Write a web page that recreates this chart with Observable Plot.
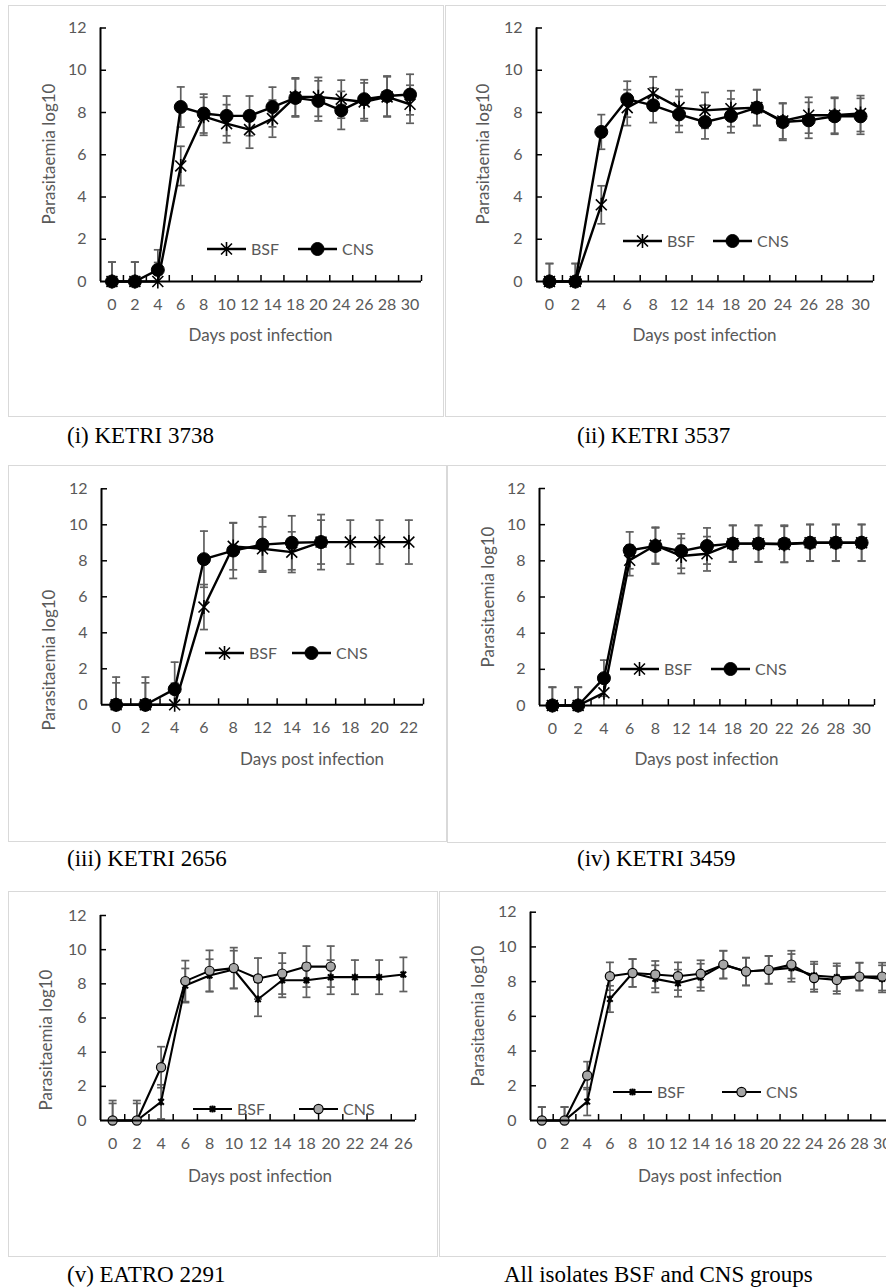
<!DOCTYPE html>
<html><head><meta charset="utf-8">
<script src="https://cdn.jsdelivr.net/npm/d3@7"></script>
<script src="https://cdn.jsdelivr.net/npm/@observablehq/plot@0.6"></script>
<style>
html,body{margin:0;padding:0;background:#fff;}
body{width:886px;height:1287px;overflow:hidden;position:relative;font-family:Lato,"Open Sans",sans-serif;}
.box{position:absolute;border:1.5px solid #d9d9d9;box-sizing:border-box;}
.wrap{position:absolute;}
.cap{position:absolute;font-family:"Liberation Serif","Times New Roman",serif;font-size:23px;color:#000;white-space:nowrap;transform:translateY(-50%);line-height:1;}
.ytitle{position:absolute;font-size:17px;color:#595959;white-space:nowrap;transform:translate(-50%,-50%) rotate(-90deg);line-height:1;}
.xtitle{position:absolute;font-size:17px;color:#595959;white-space:nowrap;transform:translate(-50%,-50%);line-height:1;}
.legt{position:absolute;font-size:16px;color:#595959;white-space:nowrap;transform:translateY(-50%);line-height:1;}
.legs{position:absolute;overflow:visible;}
</style></head>
<body>
<script>
// ---------- data ----------
const yTicks = [0, 2, 4, 6, 8, 10, 12];

const days1 = [0, 2, 4, 6, 8, 10, 12, 14, 18, 20, 24, 26, 28, 30];
const bsf1 = [0, 0, 0, 5.47, 7.82, 7.47, 7.19, 7.71, 8.74, 8.74, 8.63, 8.5, 8.74, 8.39];
const bsfErr1 = [0.92, 0.92, 0.9, 0.93, 0.9, 0.9, 0.88, 0.88, 0.9, 0.92, 0.9, 0.9, 0.95, 0.9];
const cns1 = [0, 0, 0.55, 8.26, 7.95, 7.84, 7.84, 8.26, 8.69, 8.55, 8.1, 8.63, 8.78, 8.85];
const cnsErr1 = [0.92, 0.92, 0.95, 0.95, 0.92, 0.94, 0.94, 0.94, 0.9, 0.95, 0.9, 0.92, 0.95, 0.96];

const days2 = [0, 2, 4, 6, 8, 12, 14, 18, 20, 24, 26, 28, 30];
const bsf2 = [0, 0, 3.63, 8.23, 8.89, 8.23, 8.1, 8.18, 8.23, 7.6, 7.87, 7.87, 7.95];
const bsfErr2 = [0.85, 0.85, 0.9, 0.85, 0.8, 0.85, 0.85, 0.85, 0.85, 0.85, 0.85, 0.85, 0.85];
const cns2 = [0, 0, 7.08, 8.63, 8.34, 7.91, 7.55, 7.84, 8.23, 7.55, 7.63, 7.82, 7.82];
const cnsErr2 = [0.85, 0.85, 0.82, 0.85, 0.82, 0.85, 0.8, 0.8, 0.85, 0.87, 0.85, 0.85, 0.85];

const days3 = [0, 2, 4, 6, 8, 12, 14, 16, 18, 20, 22];
const bsf3 = [0, 0, 0, 5.43, 8.8, 8.67, 8.48, 9.04, 9.04, 9.04, 9.04];
const bsfErr3 = [1.22, 1.22, 1.2, 1.25, 1.3, 1.22, 1.13, 1.22, 1.22, 1.22, 1.22];
const cns3 = [0, 0, 0.87, 8.09, 8.57, 8.9, 9.0, 9.04];
const cnsErr3 = [1.54, 1.54, 1.5, 1.56, 1.55, 1.53, 1.5, 1.53];

const days4 = [0, 2, 4, 6, 8, 12, 14, 18, 20, 22, 26, 28, 30];
const bsf4 = [0, 0, 0.7, 8.03, 8.86, 8.27, 8.39, 8.95, 8.95, 8.91, 9.0, 9.0, 9.0];
const bsfErr4 = [1.0, 1.0, 1.0, 0.85, 1.0, 0.97, 0.95, 1.0, 1.0, 1.0, 1.0, 1.0, 1.0];
const cns4 = [0, 0, 1.51, 8.58, 8.82, 8.54, 8.82, 8.95, 8.95, 8.95, 9.0, 9.0, 9.0];
const cnsErr4 = [1.02, 1.02, 1.0, 1.02, 1.0, 0.95, 1.0, 1.02, 1.02, 1.02, 1.02, 1.02, 1.02];

const days5 = [0, 2, 4, 6, 8, 10, 12, 14, 18, 20, 22, 24, 26];
const bsf5 = [0, 0, 1.09, 7.9, 8.49, 8.84, 7.1, 8.21, 8.21, 8.39, 8.39, 8.39, 8.55];
const bsfErr5 = [1.0, 1.0, 1.0, 1.0, 0.95, 1.1, 1.0, 1.0, 1.0, 1.0, 1.0, 1.0, 1.0];
const cns5 = [0, 0, 3.12, 8.16, 8.76, 8.92, 8.31, 8.6, 9.01, 9.01];
const cnsErr5 = [1.17, 1.17, 1.2, 1.2, 1.2, 1.2, 1.2, 1.2, 1.2, 1.2];

const days6 = [0, 2, 4, 6, 8, 10, 12, 14, 16, 18, 20, 22, 24, 26, 28, 30];
const bsf6 = [0, 0, 1.09, 7.0, 8.5, 8.16, 7.91, 8.25, 8.98, 8.58, 8.68, 8.79, 8.35, 8.25, 8.29, 8.16];
const bsfErr6 = [0.78, 0.78, 0.8, 0.76, 0.8, 0.78, 0.78, 0.78, 0.8, 0.8, 0.8, 0.8, 0.8, 0.8, 0.8, 0.78];
const cns6 = [0, 0, 2.59, 8.31, 8.5, 8.41, 8.31, 8.45, 8.98, 8.58, 8.68, 8.98, 8.21, 8.1, 8.29, 8.29];
const cnsErr6 = [0.77, 0.77, 0.8, 0.8, 0.8, 0.78, 0.8, 0.78, 0.8, 0.8, 0.8, 0.8, 0.8, 0.8, 0.8, 0.8];

const captions = ["(i) KETRI 3738", "(ii) KETRI 3537", "(iii) KETRI 2656", "(iv) KETRI 3459", "(v) EATRO 2291", "All isolates BSF and CNS groups"];
const seriesNames = ["BSF", "CNS"];
const xTitle = "Days post infection";
const yTitle = "Parasitaemia log10";

// ---------- symbols ----------
const asterisk = {draw(ctx, size) {
  const r = Math.sqrt(size / Math.PI), a = r * 0.78;
  ctx.moveTo(0, -r); ctx.lineTo(0, r);
  ctx.moveTo(-a, -a); ctx.lineTo(a, a);
  ctx.moveTo(-a, a); ctx.lineTo(a, -a);
}};
const hline = {draw(ctx, size) {
  const r = Math.sqrt(size / Math.PI);
  ctx.moveTo(-r, 0); ctx.lineTo(r, 0);
}};

const ERR = "#5f5f5f";
const ERRW = 1.7;
const darkStyle = {lw: 2.4, bsfR: 7, bsfSW: 1.6, cnsR: 6.5, cnsFill: "#000", cnsSW: 1};
const grayStyle = {lw: 2.1, bsfR: 3.6, bsfSW: 2, cnsR: 4.6, cnsFill: "#a6a6a6", cnsSW: 1.2};

// ---------- layout ----------
const panels = [
  {days: days1, bsf: bsf1, bsfErr: bsfErr1, cns: cns1, cnsErr: cnsErr1, style: darkStyle,
   box: {l: 8, t: 5, w: 436, h: 412}, ax0: 100, ax1: 421, y12: 27.5, y0: 281,
   xt: [260.5, 334], yt: [48, 154], cap: [67, 435], leg: {y: 249, b: 207, c: 298}},
  {days: days2, bsf: bsf2, bsfErr: bsfErr2, cns: cns2, cnsErr: cnsErr2, style: darkStyle,
   box: {l: 445, t: 5, w: 460, h: 412}, ax0: 536, ax1: 873, y12: 27.5, y0: 281,
   xt: [704.5, 334], yt: [482, 154], cap: [577, 435], leg: {y: 241, b: 623, c: 713}},
  {days: days3, bsf: bsf3, bsfErr: bsfErr3, cns: cns3, cnsErr: cnsErr3, style: darkStyle,
   box: {l: 8, t: 465, w: 439, h: 377}, ax0: 101, ax1: 423, y12: 488.3, y0: 704.3,
   xt: [312, 758], yt: [48, 660], cap: [67, 858], leg: {y: 652.7, b: 205, c: 292}},
  {days: days4, bsf: bsf4, bsfErr: bsfErr4, cns: cns4, cnsErr: cnsErr4, style: darkStyle,
   box: {l: 447, t: 465, w: 460, h: 378}, ax0: 539, ax1: 874, y12: 488, y0: 705,
   xt: [706.5, 758], yt: [487, 597], cap: [577, 858], leg: {y: 669, b: 620, c: 711}},
  {days: days5, bsf: bsf5, bsfErr: bsfErr5, cns: cns5, cnsErr: cnsErr5, style: grayStyle,
   box: {l: 8, t: 891, w: 430, h: 366}, ax0: 100, ax1: 415, y12: 915, y0: 1120,
   xt: [260, 1175], yt: [45, 1040], cap: [67, 1274], leg: {y: 1109, b: 193, c: 299}},
  {days: days6, bsf: bsf6, bsfErr: bsfErr6, cns: cns6, cnsErr: cnsErr6, style: grayStyle,
   box: {l: 439, t: 891, w: 460, h: 366}, ax0: 530, ax1: 893, y12: 911.7, y0: 1120,
   xt: [710, 1175], yt: [477, 1016], cap: [504, 1274], leg: {y: 1092, b: 613, c: 722}}
];

function addDiv(cls, text, x, y) {
  const d = document.createElement("div");
  d.className = cls; d.textContent = text;
  d.style.left = x + "px"; d.style.top = y + "px";
  document.body.appendChild(d);
  return d;
}

function legendItem(x0, y, kind, st, label) {
  const L = 39;
  const svg = d3.create("svg").attr("class", "legs").attr("width", L).attr("height", 20)
    .style("left", x0 + "px").style("top", (y - 10) + "px");
  svg.append("line").attr("x1", 0).attr("x2", L).attr("y1", 10).attr("y2", 10)
    .attr("stroke", "#000").attr("stroke-width", st.lw);
  if (kind === "bsf") {
    const p = d3.path(); asterisk.draw(p, Math.PI * st.bsfR * st.bsfR);
    svg.append("path").attr("d", p.toString()).attr("transform", `translate(${L / 2},10)`)
      .attr("fill", "none").attr("stroke", "#000").attr("stroke-width", st.bsfSW);
  } else {
    svg.append("circle").attr("cx", L / 2).attr("cy", 10).attr("r", st.cnsR)
      .attr("fill", st.cnsFill).attr("stroke", "#000").attr("stroke-width", st.cnsSW);
  }
  document.body.appendChild(svg.node());
  addDiv("legt", label, x0 + L + 5, y);
}

panels.forEach((p, k) => {
  const n = p.days.length;
  const box = document.createElement("div");
  box.className = "box";
  Object.assign(box.style, {left: p.box.l + "px", top: p.box.t + "px", width: p.box.w + "px", height: p.box.h + "px"});
  document.body.appendChild(box);

  const mL = p.ax0 - p.box.l, mR = p.box.l + p.box.w - p.ax1;
  const mT = p.y12 - p.box.t, mB = p.box.t + p.box.h - p.y0;
  const pxU = (p.y0 - p.y12) / 12, pxI = (p.ax1 - p.ax0) / n;
  const rows = (vals, errs) => vals.map((v, i) => ({i, v, e: errs[i]}));
  const B = rows(p.bsf, p.bsfErr), C = rows(p.cns, p.cnsErr);
  const all = B.concat(C);
  const st = p.style;

  const chart = Plot.plot({
    width: p.box.w, height: p.box.h,
    marginLeft: mL, marginRight: mR, marginTop: mT, marginBottom: mB,
    x: {domain: [-0.5, n - 0.5], label: null},
    y: {domain: [0, 12], label: null},
    style: {background: "transparent", color: "#595959", fontFamily: "Lato, 'Open Sans', sans-serif", fontSize: "16px", overflow: "visible"},
    marks: [
      Plot.ruleX(all, {x: "i", y1: d => Math.max(0, d.v - d.e), y2: d => d.v + d.e, stroke: ERR, strokeWidth: ERRW}),
      Plot.dot(all, {x: "i", y: d => d.v + d.e, symbol: hline, r: 4, fill: "none", stroke: ERR, strokeWidth: ERRW}),
      Plot.dot(all.filter(d => d.v - d.e > 0), {x: "i", y: d => d.v - d.e, symbol: hline, r: 4, fill: "none", stroke: ERR, strokeWidth: ERRW}),
      Plot.line(B, {x: "i", y: "v", stroke: "#000", strokeWidth: st.lw}),
      Plot.line(C, {x: "i", y: "v", stroke: "#000", strokeWidth: st.lw}),
      Plot.dot(B, {x: "i", y: "v", symbol: asterisk, r: st.bsfR, fill: "none", stroke: "#000", strokeWidth: st.bsfSW}),
      Plot.dot(C, {x: "i", y: "v", r: st.cnsR, fill: st.cnsFill, stroke: "#000", strokeWidth: st.cnsSW}),
      Plot.ruleY([0], {stroke: "#000", strokeWidth: 2}),
      Plot.ruleX([-0.5], {stroke: "#000", strokeWidth: 2}),
      Plot.ruleX(d3.range(n).map(i => i + 0.5), {y1: 0, y2: 6 / pxU, stroke: "#000", strokeWidth: 1.5}),
      Plot.ruleY(yTicks.filter(t => t > 0), {x1: -0.5, x2: -0.5 + 6 / pxI, stroke: "#000", strokeWidth: 1.5}),
      Plot.axisX(d3.range(n), {tickSize: 0, tickPadding: 17, tickFormat: i => String(p.days[i]), label: null}),
      Plot.axisY(yTicks, {tickSize: 0, tickPadding: 14, label: null})
    ]
  });
  const wrap = document.createElement("div");
  wrap.className = "wrap";
  Object.assign(wrap.style, {left: p.box.l + "px", top: p.box.t + "px", width: p.box.w + "px", height: p.box.h + "px"});
  wrap.appendChild(chart);
  document.body.appendChild(wrap);

  addDiv("xtitle", xTitle, p.xt[0], p.xt[1]);
  addDiv("ytitle", yTitle, p.yt[0], p.yt[1]);
  addDiv("cap", captions[k], p.cap[0], p.cap[1]);
  legendItem(p.leg.b, p.leg.y, "bsf", st, seriesNames[0]);
  legendItem(p.leg.c, p.leg.y, "cns", st, seriesNames[1]);
});
</script>
</body></html>
